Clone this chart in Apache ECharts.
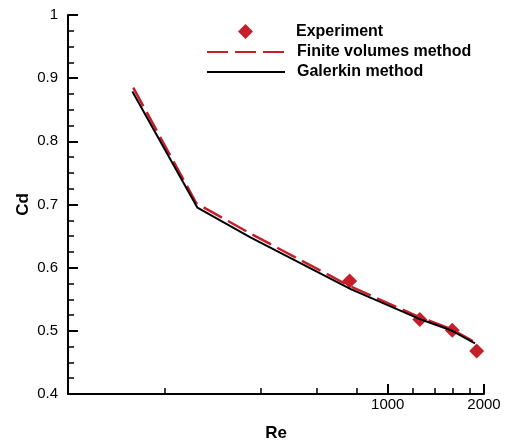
<!DOCTYPE html>
<html>
<head>
<meta charset="utf-8">
<script src="https://cdn.jsdelivr.net/npm/echarts@6/dist/echarts.min.js"></script>
<style>
html,body{margin:0;padding:0;background:#fff;}
#chart{width:506px;height:441px;}
</style>
</head>
<body>
<div id="chart"></div>
<script>
// Data
const expRe = [760, 1260, 1591, 1897];
const expCd = [0.579, 0.518, 0.501, 0.468];

const fvRe = [160, 252, 372, 766, 1240, 1576, 1874];
const fvCd = [0.885, 0.702, 0.654, 0.570, 0.523, 0.503, 0.482];

const galRe = [159, 254, 372, 766, 1240, 1576, 1874];
const galCd = [0.879, 0.695, 0.648, 0.566, 0.520, 0.501, 0.480];

const reMinorTicks = [200, 400, 600, 800, 1000, 1200, 1400, 1600, 1800, 2000];
const reMajorTicks = [1000, 2000];
const reLabels = [1000, 2000];

const RED = '#c61f2a';
const FONT = '"Liberation Sans", Arial, sans-serif';

const zip = (xs, ys) => xs.map((x, i) => [x, ys[i]]);
const legendText = pad => ({fontFamily: FONT, fontSize: 16, fontWeight: 'bold', color: '#000', padding: [0, 0, 0, pad]});

const chart = echarts.init(document.getElementById('chart'), null, {renderer: 'canvas'});
chart.setOption({
  animation: false,
  backgroundColor: '#fff',
  textStyle: {fontFamily: FONT},
  grid: {left: 68, right: 22, top: 15, bottom: 47, containLabel: false, outerBoundsMode: 'none'},
  legend: [{
    orient: 'vertical',
    left: 233,
    top: 18.5,
    itemWidth: 15,
    itemHeight: 15,
    textStyle: legendText(38),
    data: [{name: 'Experiment', icon: 'diamond', itemStyle: {color: RED, opacity: 1}}]
  }, {
    orient: 'vertical',
    left: 201,
    top: 39,
    itemWidth: 78,
    itemHeight: 14,
    itemGap: 4,
    textStyle: legendText(7),
    data: [
      {name: 'Finite volumes method', itemStyle: {opacity: 0}},
      {name: 'Galerkin method', itemStyle: {opacity: 0}}
    ]
  }],
  xAxis: [{
    type: 'log',
    logBase: 10,
    min: 100,
    max: 2000,
    name: 'Re',
    nameLocation: 'middle',
    nameGap: 31,
    nameMoveOverlap: false,
    nameTextStyle: {fontFamily: FONT, fontSize: 17, fontWeight: 'bold', color: '#000'},
    axisLine: {lineStyle: {color: '#000', width: 2}},
    axisTick: {inside: true, length: 6, customValues: reMinorTicks, lineStyle: {color: '#000', width: 1.5}},
    axisLabel: {customValues: reLabels, fontFamily: FONT, fontSize: 15, color: '#000', margin: 3,
      formatter: v => String(Math.round(v))},
    splitLine: {show: false},
    minorTick: {show: false}
  }, {
    type: 'log',
    logBase: 10,
    min: 100,
    max: 2000,
    position: 'bottom',
    axisLine: {show: false},
    axisTick: {inside: true, length: 10, customValues: reMajorTicks, lineStyle: {color: '#000', width: 2}},
    axisLabel: {show: false},
    splitLine: {show: false}
  }],
  yAxis: {
    type: 'value',
    min: 0.4,
    max: 1,
    interval: 0.1,
    name: 'Cd',
    nameLocation: 'middle',
    nameGap: 36,
    nameMoveOverlap: false,
    nameTextStyle: {fontFamily: FONT, fontSize: 17, fontWeight: 'bold', color: '#000'},
    axisLine: {show: true, lineStyle: {color: '#000', width: 2}},
    axisTick: {inside: true, length: 10, lineStyle: {color: '#000', width: 2}},
    minorTick: {show: true, splitNumber: 4, length: 6, lineStyle: {color: '#000', width: 1.5}},
    axisLabel: {fontFamily: FONT, fontSize: 15, color: '#000', margin: 10},
    splitLine: {show: false}
  },
  series: [{
    name: 'Experiment',
    type: 'scatter',
    symbol: 'diamond',
    symbolSize: 15,
    itemStyle: {color: RED, opacity: 1},
    data: zip(expRe, expCd)
  }, {
    name: 'Finite volumes method',
    type: 'line',
    symbol: 'none',
    showSymbol: false,
    lineStyle: {color: RED, width: 2.5, type: [21, 7]},
    itemStyle: {color: RED},
    data: zip(fvRe, fvCd)
  }, {
    name: 'Galerkin method',
    type: 'line',
    symbol: 'none',
    showSymbol: false,
    lineStyle: {color: '#000', width: 2},
    itemStyle: {color: '#000'},
    data: zip(galRe, galCd)
  }]
});
</script>
</body>
</html>
